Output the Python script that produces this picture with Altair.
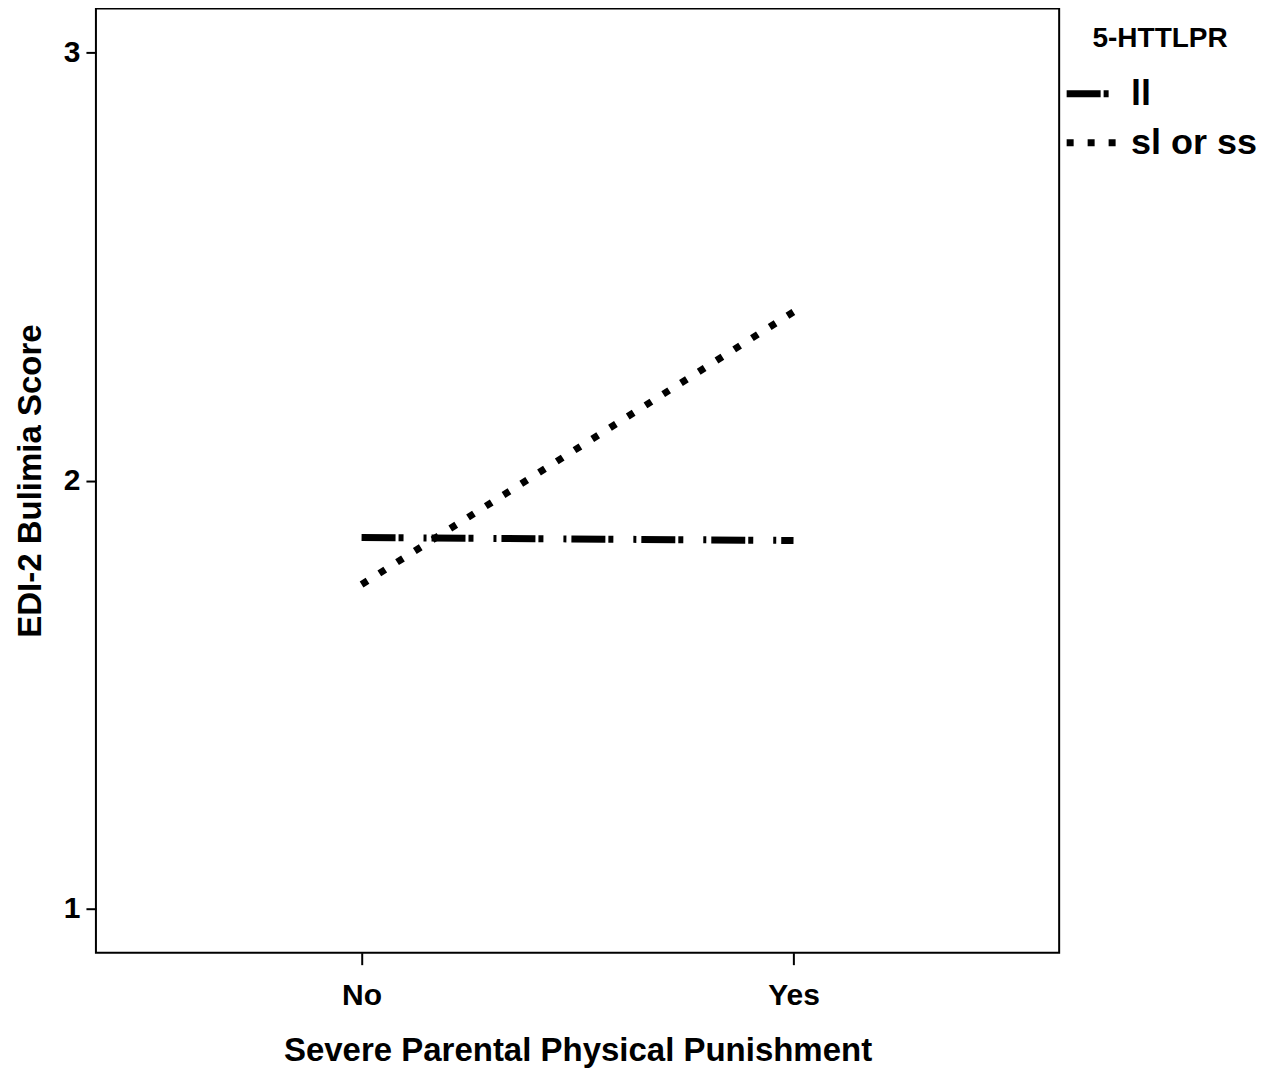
import altair as alt
import pandas as pd

punishment = ["No", "Yes"]
genotypes = ["ll", "sl or ss"]
ll_scores = [1.867, 1.860]
sl_ss_scores = [1.757, 2.394]

rows = []
for g, vals in zip(genotypes, [ll_scores, sl_ss_scores]):
    for p, v in zip(punishment, vals):
        rows.append({"Punishment": p, "Genotype": g, "Score": v})
df = pd.DataFrame(rows)

FONT = "Liberation Sans"

chart = alt.Chart(df).mark_line(color="black", strokeWidth=7, strokeCap="butt").encode(
    x=alt.X("Punishment:N",
            scale=alt.Scale(type="point", domain=punishment, padding=0.615),
            axis=alt.Axis(title="Severe Parental Physical Punishment", labelAngle=0,
                          tickSize=12, tickWidth=2, tickColor="black",
                          labelPadding=16, titlePadding=24,
                          labelFontSize=30, titleFontSize=33, domain=False)),
    y=alt.Y("Score:Q",
            scale=alt.Scale(domain=[0.897, 3.103], nice=False, zero=False),
            axis=alt.Axis(title="EDI-2 Bulimia Score", values=[1, 2, 3], format="d",
                          tickSize=10, tickWidth=2, tickColor="black",
                          labelPadding=6, titlePadding=16,
                          labelFontSize=30, titleFontSize=33, domain=False, grid=False)),
    strokeDash=alt.StrokeDash("Genotype:N",
                              scale=alt.Scale(domain=genotypes,
                                              range=[[34, 3, 5, 20, 3, 5], [7, 14]]),
                              legend=alt.Legend(title="5-HTTLPR", orient="none",
                                                legendX=968, legendY=17,
                                                padding=0,
                                                symbolType="stroke", symbolSize=2500,
                                                symbolStrokeWidth=7, symbolStrokeColor="black",
                                                titleAnchor="middle", titlePadding=12,
                                                titleFontSize=28, labelFontSize=36,
                                                labelOffset=11, rowPadding=2,
                                                labelFontWeight="bold")),
).properties(
    width=964,
    height=945,
    autosize=alt.AutoSizeParams(type="none"),
    padding={"left": 88, "top": 0, "right": 200, "bottom": 120},
).configure_view(
    stroke="black", strokeWidth=2
).configure_axis(
    labelFont=FONT, titleFont=FONT, labelColor="black", titleColor="black",
    labelFontWeight="bold", titleFontWeight="bold"
).configure_legend(
    labelFont=FONT, titleFont=FONT, labelColor="black", titleColor="black",
    titleFontWeight="bold"
)

chart.save("out.html", embed_options={"renderer": "svg", "actions": False})
